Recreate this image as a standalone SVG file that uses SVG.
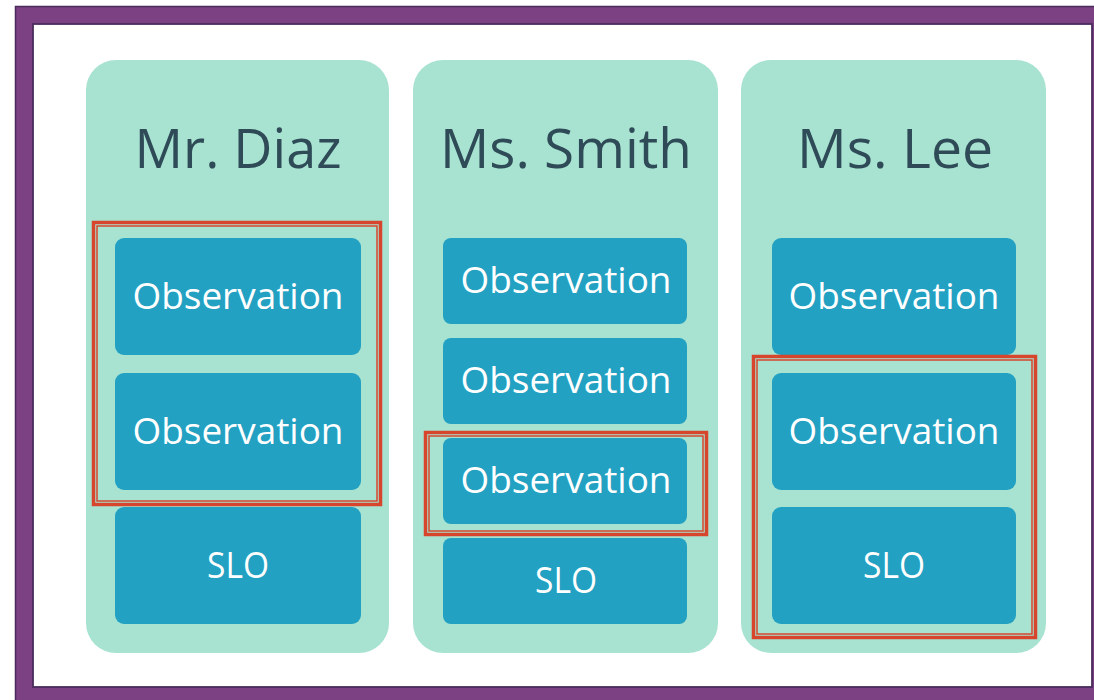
<svg xmlns="http://www.w3.org/2000/svg" width="1094" height="700" viewBox="0 0 1094 700">
<style>
.col{fill:#A8E3D2}
.box{fill:#22A1C2}
.title{font-family:"Open Sans","Liberation Sans",sans-serif;font-size:55px;fill:#2E4B57;text-anchor:middle}
.lbl{font-family:"Open Sans","Liberation Sans",sans-serif;font-size:36px;fill:#FFFFFF;text-anchor:middle}
.hl{fill:none;stroke:#D6452C;stroke-width:3.5}
.hl2{fill:none;stroke:#D6452C;stroke-width:1.5}
</style>
<rect x="0" y="0" width="1094" height="700" fill="#FFFFFF"/>
<rect x="15.5" y="6.5" width="1090" height="700" fill="#7B4182" stroke="#4A2C5C" stroke-width="1.5"/>
<rect x="33" y="24" width="1059" height="663" fill="#FFFFFF" stroke="#4A2C5C" stroke-width="1.8"/>

<g id="col-diaz">
<rect class="col" x="86" y="60" width="303" height="593" rx="30"/>
<text class="title" x="238" y="168" textLength="207" lengthAdjust="spacingAndGlyphs">Mr. Diaz</text>
</g>
<g id="col-smith">
<rect class="col" x="413" y="60" width="305" height="593" rx="30"/>
<text class="title" x="566" y="168" textLength="252" lengthAdjust="spacingAndGlyphs">Ms. Smith</text>
</g>
<g id="col-lee">
<rect class="col" x="741" y="60" width="305" height="593" rx="30"/>
<text class="title" x="895" y="168" textLength="196" lengthAdjust="spacingAndGlyphs">Ms. Lee</text>
</g>

<g id="diaz-obs1"><rect class="box" x="115" y="238" width="246" height="117" rx="9"/><text class="lbl" x="238" y="309" textLength="211" lengthAdjust="spacingAndGlyphs">Observation</text></g>
<g id="diaz-obs2"><rect class="box" x="115" y="373" width="246" height="117" rx="9"/><text class="lbl" x="238" y="444" textLength="211" lengthAdjust="spacingAndGlyphs">Observation</text></g>
<g id="diaz-slo"><rect class="box" x="115" y="507" width="246" height="117" rx="9"/><text class="lbl" x="238" y="578" textLength="62" lengthAdjust="spacingAndGlyphs">SLO</text></g>

<g id="smith-obs1"><rect class="box" x="443" y="238" width="244" height="86" rx="8"/><text class="lbl" x="566" y="293" textLength="211" lengthAdjust="spacingAndGlyphs">Observation</text></g>
<g id="smith-obs2"><rect class="box" x="443" y="338" width="244" height="86" rx="8"/><text class="lbl" x="566" y="393" textLength="211" lengthAdjust="spacingAndGlyphs">Observation</text></g>
<g id="smith-obs3"><rect class="box" x="443" y="438" width="244" height="86" rx="8"/><text class="lbl" x="566" y="493" textLength="211" lengthAdjust="spacingAndGlyphs">Observation</text></g>
<g id="smith-slo"><rect class="box" x="443" y="538" width="244" height="86" rx="8"/><text class="lbl" x="566" y="593" textLength="62" lengthAdjust="spacingAndGlyphs">SLO</text></g>

<g id="lee-obs1"><rect class="box" x="772" y="238" width="244" height="117" rx="9"/><text class="lbl" x="894" y="309" textLength="211" lengthAdjust="spacingAndGlyphs">Observation</text></g>
<g id="lee-obs2"><rect class="box" x="772" y="373" width="244" height="117" rx="9"/><text class="lbl" x="894" y="444" textLength="211" lengthAdjust="spacingAndGlyphs">Observation</text></g>
<g id="lee-slo"><rect class="box" x="772" y="507" width="244" height="117" rx="9"/><text class="lbl" x="894" y="578" textLength="62" lengthAdjust="spacingAndGlyphs">SLO</text></g>

<g id="highlights">
<rect class="hl" x="93.5" y="222.5" width="287" height="282"/>
<rect class="hl2" x="97" y="226" width="280" height="275"/>
<rect class="hl" x="425.5" y="432.5" width="281" height="102"/>
<rect class="hl2" x="429" y="436" width="274" height="95"/>
<rect class="hl" x="753.5" y="356.5" width="282" height="281"/>
<rect class="hl2" x="757" y="360" width="275" height="274"/>
</g>
</svg>
